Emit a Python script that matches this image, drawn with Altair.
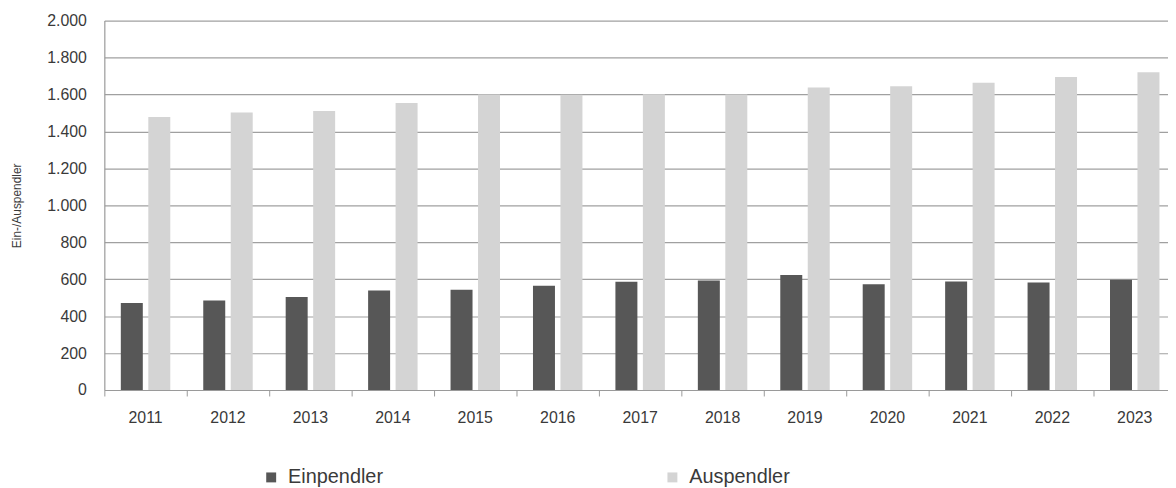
import altair as alt
import pandas as pd

years = ["2011", "2012", "2013", "2014", "2015", "2016", "2017",
         "2018", "2019", "2020", "2021", "2022", "2023"]
einpendler = [471, 485, 504, 539, 543, 565, 586, 593, 622, 572, 588, 582, 597]
auspendler = [1478, 1502, 1511, 1554, 1600, 1599, 1601, 1600, 1637, 1645, 1663, 1694, 1720]
series = ["Einpendler", "Auspendler"]
colors = ["#575757", "#d4d4d4"]
y_ticks = [0, 200, 400, 600, 800, 1000, 1200, 1400, 1600, 1800, 2000]

rows = []
for i, yr in enumerate(years):
    rows.append({"Jahr": yr, "Serie": series[0], "Wert": einpendler[i]})
    rows.append({"Jahr": yr, "Serie": series[1], "Wert": auspendler[i]})
df = pd.DataFrame(rows)

FONT = "Liberation Sans"
PLOT_W = 1071
PLOT_H = 372
FULL_W = 1079

chart = alt.Chart(df).mark_bar().encode(
    x=alt.X("Jahr:N", sort=years, title=None,
            scale=alt.Scale(range=[0, FULL_W], paddingInner=0, paddingOuter=0),
            axis=alt.Axis(labelAngle=0, bandPosition=0, ticks=True, tickSize=6,
                          tickColor="#9a9a9a", domainColor="#9a9a9a",
                          labelFontSize=16, labelColor="#3a3a3a", labelFont=FONT,
                          labelPadding=14, grid=False)),
    xOffset=alt.XOffset("Serie:N", sort=series,
                        scale=alt.Scale(paddingInner=0.2, paddingOuter=0.6)),
    y=alt.Y("Wert:Q", title="Ein-/Auspendler",
            scale=alt.Scale(domain=[0, 2000], nice=False),
            axis=alt.Axis(values=y_ticks, ticks=False, domainColor="#9a9a9a",
                          gridColor="#a0a0a0", gridWidth=1.2,
                          labelExpr="replace(format(datum.value, ','), ',', '.')",
                          labelFontSize=16, labelColor="#3a3a3a", labelFont=FONT,
                          labelPadding=18, titleFont=FONT, titleFontSize=12,
                          titleFontWeight="normal", titleColor="#3a3a3a",
                          titlePadding=23)),
    color=alt.Color("Serie:N", sort=series,
                    scale=alt.Scale(domain=series, range=colors),
                    legend=alt.Legend(title=None, orient="none", direction="horizontal",
                                      columns=2, legendX=158, legendY=450,
                                      symbolType="square", symbolSize=100,
                                      symbolStrokeWidth=0, labelFontSize=20,
                                      labelFont=FONT, labelColor="#3a3a3a",
                                      labelOffset=7, columnPadding=281)),
).properties(
    width=PLOT_W, height=PLOT_H,
    autosize=alt.AutoSizeParams(type="none"),
    padding={"left": 97, "top": 11, "right": 0, "bottom": 97},
).configure_view(stroke=None).configure_axis(domainWidth=1.2)

chart.save("out.html", embed_options={"renderer": "svg", "actions": False})
